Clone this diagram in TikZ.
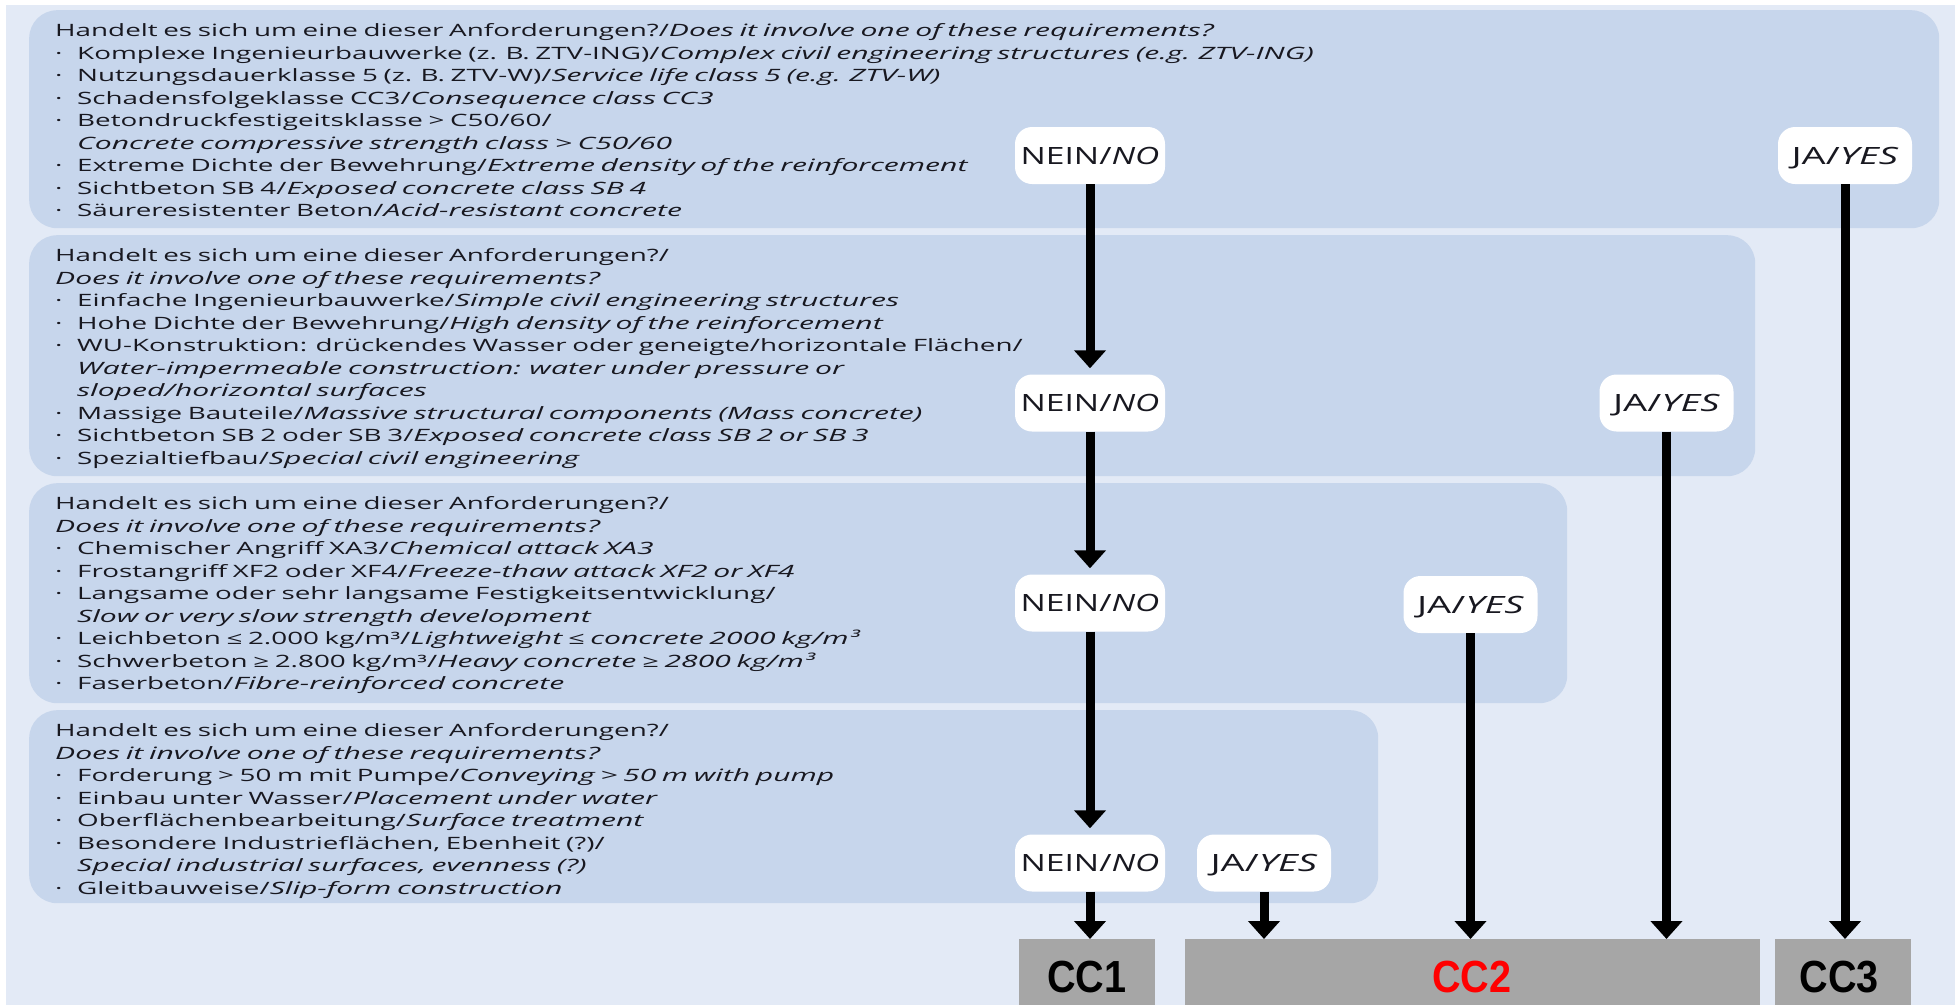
\documentclass[tikz,border=0pt]{standalone}
\usepackage{fontspec}
\setmainfont{Open Sans}[UprightFeatures={FakeStretch=1.635}, ItalicFeatures={FakeStretch=1.77}]
\newfontfamily\neinfont{Open Sans}[FakeStretch=1.41]
\newfontfamily\jafont{Open Sans}[FakeStretch=1.6]
\newfontfamily\ccfont{Liberation Sans}[FakeStretch=0.88]
\usetikzlibrary{arrows.meta}
\definecolor{bgc}{RGB}{227,234,246}
\definecolor{panelc}{RGB}{199,214,236}
\definecolor{ccgray}{RGB}{166,166,166}
\definecolor{txtc}{RGB}{24,24,32}
\definecolor{ccred}{RGB}{255,0,0}
\newcommand\myBul{\makebox[22bp][l]{·}}
\newcommand\myInd{\hspace*{22bp}}
\newcommand\myStrut{\rule{0pt}{17bp}}
\begin{document}
\begin{tikzpicture}[x=1bp,y=-1bp,
  panel/.style={shape=rectangle, fill=panelc, rounded corners=28bp, inner sep=0pt, anchor=north west},
  txt/.style={anchor=north west, inner sep=0pt, text width=1500bp, align=left, text=txtc,
    font=\fontsize{17bp}{22.5bp}\selectfont},
  lbl/.style={shape=rectangle, fill=white, rounded corners=17bp, inner sep=0pt, minimum height=57bp,
    text height=17bp, text depth=0pt, text=txtc},
  nein/.style={lbl, minimum width=150bp, font=\neinfont\fontsize{23.8bp}{28bp}\selectfont},
  ja/.style={lbl, minimum width=134bp, font=\jafont\fontsize{23.8bp}{28bp}\selectfont},
  ccbox/.style={shape=rectangle, fill=ccgray, inner sep=0pt, anchor=north west, minimum height=66bp},
  cctext/.style={inner sep=0pt, text height=32bp, text depth=0pt, font=\ccfont\bfseries\fontsize{45bp}{50bp}\selectfont},
  arr/.style={line width=9bp, -{Triangle[length=18bp,width=31bp]}}
]
\useasboundingbox (0,0) rectangle (1955,1005);
\fill[white] (0,0) rectangle (1955,1005);
\fill[bgc] (6,5) rectangle (1955,1005);

% panels
\node[panel, minimum width=1910bp, minimum height=218bp] (p1) at (29,10) {};
\node[panel, minimum width=1726bp, minimum height=241bp] (p2) at (29,235) {};
\node[panel, minimum width=1538bp, minimum height=220bp] (p3) at (29,483) {};
\node[panel, minimum width=1349bp, minimum height=193bp] (p4) at (29,710) {};

% texts
\node[txt] (t1) at (55,19.5) {\myStrut Handelt es sich um eine dieser Anforderungen?/\textit{Does it involve one of these requirements?}\\
\myBul Komplexe Ingenieurbauwerke (z. B. ZTV-ING)/\textit{Complex civil engineering structures (e.g. ZTV-ING)}\\
\myBul Nutzungsdauerklasse 5 (z. B. ZTV-W)/\textit{Service life class 5 (e.g. ZTV-W)}\\
\myBul Schadensfolgeklasse CC3/\textit{Consequence class CC3}\\
\myBul Betondruckfestigeitsklasse > C50/60/\\
\myInd\textit{Concrete compressive strength class > C50/60}\\
\myBul Extreme Dichte der Bewehrung/\textit{Extreme density of the reinforcement}\\
\myBul Sichtbeton SB 4/\textit{Exposed concrete class SB 4}\\
\myBul Säureresistenter Beton/\textit{Acid-resistant concrete}};

\node[txt] (t2) at (55,244.5) {\myStrut Handelt es sich um eine dieser Anforderungen?/\\
\textit{Does it involve one of these requirements?}\\
\myBul Einfache Ingenieurbauwerke/\textit{Simple civil engineering structures}\\
\myBul Hohe Dichte der Bewehrung/\textit{High density of the reinforcement}\\
\myBul WU-Konstruktion: drückendes Wasser oder geneigte/horizontale Flächen/\\
\myInd\textit{Water-impermeable construction: water under pressure or}\\
\myInd\textit{sloped/horizontal surfaces}\\
\myBul Massige Bauteile/\textit{Massive structural components (Mass concrete)}\\
\myBul Sichtbeton SB 2 oder SB 3/\textit{Exposed concrete class SB 2 or SB 3}\\
\myBul Spezialtiefbau/\textit{Special civil engineering}};

\node[txt] (t3) at (55,492.5) {\myStrut Handelt es sich um eine dieser Anforderungen?/\\
\textit{Does it involve one of these requirements?}\\
\myBul Chemischer Angriff XA3/\textit{Chemical attack XA3}\\
\myBul Frostangriff XF2 oder XF4/\textit{Freeze-thaw attack XF2 or XF4}\\
\myBul Langsame oder sehr langsame Festigkeitsentwicklung/\\
\myInd\textit{Slow or very slow strength development}\\
\myBul Leichbeton ≤ 2.000 kg/m³/\textit{Lightweight ≤ concrete 2000 kg/m³}\\
\myBul Schwerbeton ≥ 2.800 kg/m³/\textit{Heavy concrete ≥ 2800 kg/m³}\\
\myBul Faserbeton/\textit{Fibre-reinforced concrete}};

\node[txt] (t4) at (55,719.5) {\myStrut Handelt es sich um eine dieser Anforderungen?/\\
\textit{Does it involve one of these requirements?}\\
\myBul Forderung > 50 m mit Pumpe/\textit{Conveying > 50 m with pump}\\
\myBul Einbau unter Wasser/\textit{Placement under water}\\
\myBul Oberflächenbearbeitung/\textit{Surface treatment}\\
\myBul Besondere Industrieflächen, Ebenheit (?)/\\
\myInd\textit{Special industrial surfaces, evenness (?)}\\
\myBul Gleitbauweise/\textit{Slip-form construction}};

% decision labels
\node[nein] (n1) at (1090,155.5) {NEIN/\textit{NO}};
\node[nein] (n2) at (1090,403) {NEIN/\textit{NO}};
\node[nein] (n3) at (1090,603) {NEIN/\textit{NO}};
\node[nein] (n4) at (1090,863) {NEIN/\textit{NO}};
\node[ja] (j1) at (1845,155.5) {JA/\textit{YES}};
\node[ja] (j2) at (1666.5,403) {JA/\textit{YES}};
\node[ja] (j3) at (1470.5,604.5) {JA/\textit{YES}};
\node[ja] (j4) at (1264,863) {JA/\textit{YES}};

% result boxes
\node[ccbox, minimum width=136bp] (cc1) at (1019,939) {};
\node[ccbox, minimum width=575bp] (cc2) at (1185,939) {};
\node[ccbox, minimum width=136bp] (cc3) at (1775,939) {};
\node[cctext, text=black] (cc1t) at (1087,976) {CC1};
\node[cctext, text=ccred] (cc2t) at (1472,976) {CC2};
\node[cctext, text=black] (cc3t) at (1839,976) {CC3};

% arrows
\draw[arr, shorten >=6bp] (n1.south) -- (n2.north);
\draw[arr, shorten >=6bp] (n2.south) -- (n3.north);
\draw[arr, shorten >=6bp] (n3.south) -- (n4.north);
\draw[arr] (n4.south) -- (n4.south |- cc1.north);
\draw[arr] (j4.south) -- (j4.south |- cc2.north);
\draw[arr] (j3.south) -- (j3.south |- cc2.north);
\draw[arr] (j2.south) -- (j2.south |- cc2.north);
\draw[arr] (j1.south) -- (j1.south |- cc3.north);
\end{tikzpicture}
\end{document}
